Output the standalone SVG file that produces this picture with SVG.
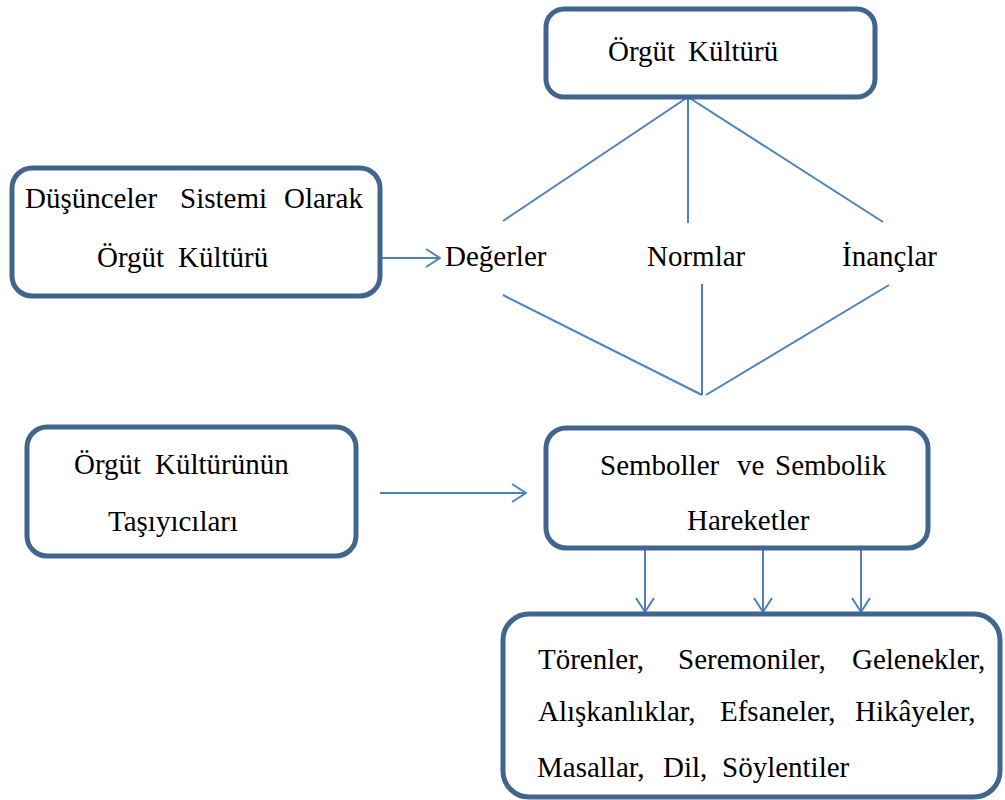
<svg xmlns="http://www.w3.org/2000/svg" width="1005" height="800" viewBox="0 0 1005 800">
<style>
.box{fill:#fff;stroke:#41658f;stroke-width:5}
.t{font-family:"Liberation Serif","Times New Roman",serif;font-size:29px;fill:#000}
.c{stroke:#4f81bd;stroke-width:2;fill:none}
</style>
<defs>
<marker id="ah" viewBox="0 0 16 20" refX="15" refY="10" markerWidth="16" markerHeight="20" markerUnits="userSpaceOnUse" orient="auto">
<path d="M1,1 L15,10 L1,19" fill="none" stroke="#4f81bd" stroke-width="2"/>
</marker>
</defs>
<rect width="1005" height="800" fill="#fff"/>
<g id="connectors">
<line class="c" x1="688" y1="97" x2="503" y2="221"/>
<line class="c" x1="688" y1="97" x2="688" y2="223"/>
<line class="c" x1="688" y1="97" x2="883" y2="222"/>
<line class="c" x1="503" y1="295" x2="702" y2="395"/>
<line class="c" x1="702" y1="284" x2="702" y2="395"/>
<line class="c" x1="889" y1="285" x2="706" y2="395"/>
<line class="c" x1="382" y1="258" x2="440" y2="258" marker-end="url(#ah)"/>
<line class="c" x1="380" y1="493" x2="526" y2="493" marker-end="url(#ah)"/>
<line class="c" x1="645" y1="550" x2="645" y2="612" marker-end="url(#ah)"/>
<line class="c" x1="763" y1="550" x2="763" y2="612" marker-end="url(#ah)"/>
<line class="c" x1="861" y1="550" x2="861" y2="612" marker-end="url(#ah)"/>
</g>
<g id="orgut-kulturu">
<rect class="box" x="546" y="9" width="329" height="88" rx="18"/>
<text class="t" x="608" y="61">Örgüt</text>
<text class="t" x="688" y="61">Kültürü</text>
</g>
<g id="dusunceler">
<rect class="box" x="12" y="168" width="368" height="128" rx="20"/>
<text class="t" x="25" y="208">Düşünceler</text>
<text class="t" x="180" y="208">Sistemi</text>
<text class="t" x="284" y="208">Olarak</text>
<text class="t" x="97" y="267">Örgüt</text>
<text class="t" x="178" y="267">Kültürü</text>
</g>
<g id="degerler"><text class="t" x="445" y="266">Değerler</text></g>
<g id="normlar"><text class="t" x="647" y="266">Normlar</text></g>
<g id="inanclar"><text class="t" x="842" y="266">İnançlar</text></g>
<g id="tasiyicilari">
<rect class="box" x="27" y="427" width="329" height="129" rx="20"/>
<text class="t" x="74" y="474">Örgüt</text>
<text class="t" x="155" y="474">Kültürünün</text>
<text class="t" x="108" y="531">Taşıyıcıları</text>
</g>
<g id="semboller">
<rect class="box" x="546" y="428" width="382" height="120" rx="20"/>
<text class="t" x="600" y="475">Semboller</text>
<text class="t" x="737" y="475">ve</text>
<text class="t" x="775" y="475">Sembolik</text>
<text class="t" x="687" y="530">Hareketler</text>
</g>
<g id="torenler">
<rect class="box" x="503" y="614" width="497" height="183" rx="26"/>
<text class="t" x="538" y="669">Törenler,</text>
<text class="t" x="678" y="669">Seremoniler,</text>
<text class="t" x="852" y="669">Gelenekler,</text>
<text class="t" x="538" y="721">Alışkanlıklar,</text>
<text class="t" x="720" y="721">Efsaneler,</text>
<text class="t" x="855" y="721">Hikâyeler,</text>
<text class="t" x="537" y="777">Masallar,</text>
<text class="t" x="663" y="777">Dil,</text>
<text class="t" x="722" y="777">Söylentiler</text>
</g>
</svg>
